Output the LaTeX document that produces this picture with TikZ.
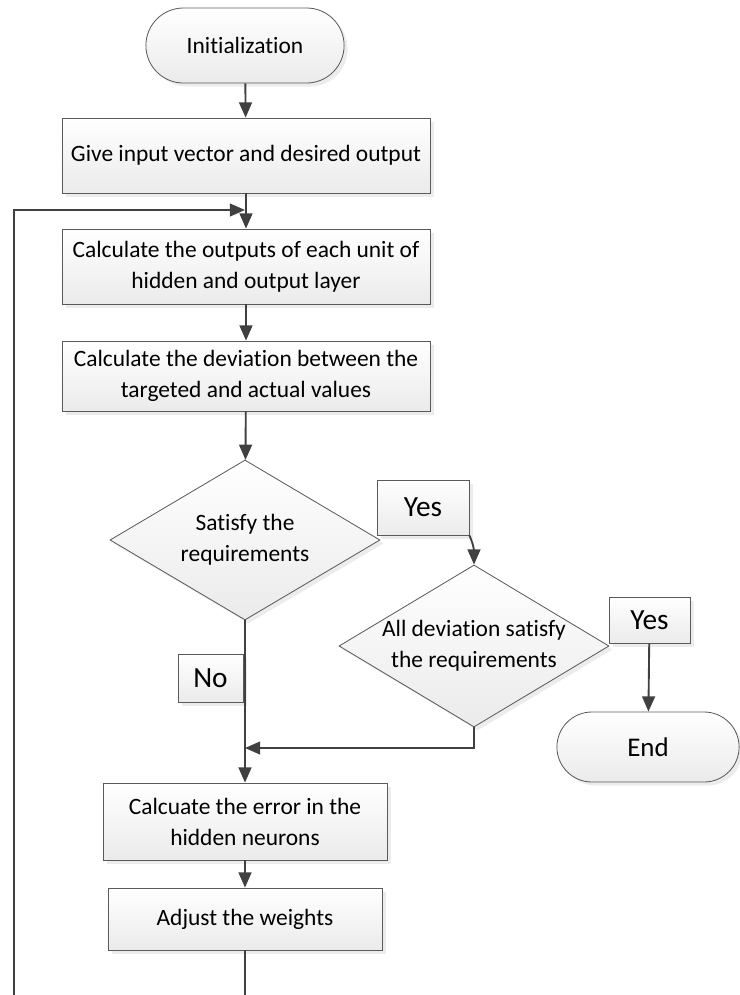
\documentclass[tikz,border=0pt]{standalone}
\usepackage{fontspec}
\setmainfont{Carlito}[Ligatures=NoCommon]
\usetikzlibrary{positioning,arrows.meta,shapes.geometric,shapes.misc,shadows}
\definecolor{edgegray}{HTML}{5A5A5A}
\definecolor{linkgray}{HTML}{404040}

\begin{document}
\begin{tikzpicture}[x=0.03cm, y=-0.03cm, >={Triangle[length=13pt,width=11pt]},
        every node/.style={font=\fontsize{20}{26.5}\selectfont, text=black},
        base/.style={draw=edgegray, line width=0.7pt, top color=white, bottom color=gray!16, align=center,
            drop shadow={shadow xshift=3pt, shadow yshift=-3pt, fill=gray!30}},
        proc/.style={base, rectangle, minimum width=11.04cm, minimum height=2.25cm},
        term/.style={base, rounded rectangle},
        cond/.style={base, diamond, aspect=1.67, inner sep=-6pt},
        tag/.style={base, rectangle, font=\fontsize{25}{30}\selectfont},
        link/.style={draw=linkgray, line width=1.6pt}]
        \useasboundingbox (0,0) rectangle (740,995);

        \node[term, minimum width=6.18cm, minimum height=2.25cm] (init) at (245,45.5) {Initialization};
        \node[proc] (give) at (246,155.5) {Give input vector and desired output};
        \node[proc] (outs) at (246,266.5) {Calculate the outputs of each unit of\\hidden and output layer};
        \node[proc, minimum height=2.1cm] (dev) at (246,376) {Calculate the deviation between the\\targeted and actual values};
        \node[cond, minimum width=8.1cm, minimum height=4.8cm] (sat) at (245,540) {Satisfy the\\requirements};
        \node[tag, minimum width=2.76cm, minimum height=1.65cm] (yes1) at (423,507.5) {Yes};
        \node[cond, minimum width=8.1cm, minimum height=4.86cm] (all) at (474,646) {All deviation satisfy\\the requirements};
        \node[tag, minimum width=2.43cm, minimum height=1.38cm] (yes2) at (649.5,620) {Yes};
        \node[term, minimum width=5.7cm, minimum height=2.1cm, font=\fontsize{23}{28}\selectfont] (end) at (648,747) {End};
        \node[tag, minimum width=1.95cm, minimum height=1.44cm] (no) at (210.5,678) {No};
        \node[proc, minimum width=8.52cm, minimum height=2.31cm] (err) at (245,821.5) {Calcuate the error in the\\hidden neurons};
        \node[proc, minimum width=8.22cm, minimum height=1.86cm] (adj) at (245,919) {Adjust the weights};

        \coordinate (join) at (245,748);
        \coordinate (back) at (245,210);
        \coordinate (lowr) at (245,995);
        \coordinate (lowl) at (14,995);

        \draw[link, ->] (init) -- (give);
        \draw[link, ->] (give) -- (outs);
        \draw[link, ->] (outs) -- (dev);
        \draw[link, ->] (dev) -- (sat);
        \draw[link, ->] (yes1.south east) to[out=-65, in=90] (all.north);
        \draw[link, ->] (yes2) -- (end);
        \draw[link, ->] (all.south) |- (join);
        \draw[link, ->] (sat.south) -- (err.north);
        \draw[link, ->] (err) -- (adj);
        \draw[link] (adj) -- (lowr);
        \draw[link, ->] (lowl) |- (back);
    \end{tikzpicture}
\end{document}
